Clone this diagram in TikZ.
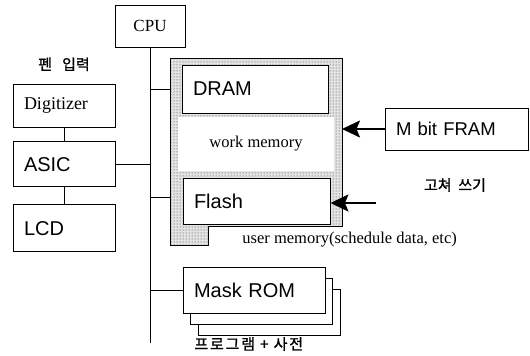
\documentclass[tikz,border=0pt]{standalone}
\usepackage{fontspec}
\setmainfont{Liberation Serif}
\newfontfamily\arialfont{Liberation Sans}
\newfontfamily\hangul[FakeBold=1.2]{Noto Sans CJK KR}
\usetikzlibrary{positioning, patterns, arrows.meta}

\tikzset{
  unit/.style={draw, line width=0.9pt, fill=white, inner xsep=11pt, inner ysep=0pt, align=left, font=\arialfont\fontsize{20}{22}\selectfont},
  memshade/.style={draw, line width=0.9pt, fill=gray!22, postaction={pattern=dots, pattern color=black!80}},
  push/.style={line width=2pt, -{Stealth[length=18pt, width=17pt, inset=3.5pt]}},
  note/.style={inner sep=1pt, font=\rmfamily\fontsize{16.5}{18}\selectfont},
  hannote/.style={inner sep=1pt, font=\hangul\fontsize{15}{17}\selectfont},
}

\begin{document}
\begin{tikzpicture}[x=1pt, y=-1pt, line width=0.9pt]
  \useasboundingbox (0,0) rectangle (530,356);

  % processor and its bus
  \node[unit, align=center, inner xsep=0pt, minimum width=70pt, minimum height=42pt, font=\rmfamily\fontsize{17}{19}\selectfont] (cpu) at (150,26) {CPU};
  \coordinate (busend) at (150,343);

  % pen input side
  \node[unit, text width=80pt, minimum height=43pt, font=\rmfamily\fontsize{18}{20}\selectfont] (digitizer) at (64,105.5) {Digitizer};
  \node[unit, text width=80pt, minimum height=45pt, below=14pt of digitizer] (asic) {ASIC};
  \node[unit, text width=80pt, minimum height=47pt, below=17pt of asic] (lcd) {LCD};
  \node[hannote, above=11pt of digitizer] (peninput) {펜~~~입력};

  % memory block
  \coordinate (memnw) at (170,58);
  \coordinate (memne) at (342,58);
  \draw[memshade] (memnw) -- (memne) -- (342,226) -- (208,226) -- (208,245) -- (170,245) -- cycle;
  \fill[white] (178,117) rectangle (334,171);
  \node[note] (workmem) at (256,144) {work memory};
  \node[unit, text width=124pt, minimum height=48pt] (dram) at (255,89) {DRAM};
  \node[unit, text width=125pt, minimum height=46pt] (flash) at (256.5,201) {Flash};
  \node[note, anchor=west] (usermem) at (241,240) {user memory(schedule data, etc)};

  % mask rom stack
  \node[unit, minimum width=142pt, minimum height=46pt] (rom3) at (269,312) {};
  \node[unit, minimum width=142pt, minimum height=46pt] (rom2) at (261,301) {};
  \node[unit, text width=120pt, minimum height=46pt] (rom) at (254,290) {Mask ROM};
  \node[hannote, anchor=west, font=\hangul\fontsize{15}{17}\selectfont\addfontfeature{LetterSpace=12}] (romnote) at (193,344) {프로그램~+~사전};

  % fram
  \node[unit, text width=121pt, minimum height=42pt, font=\arialfont\fontsize{18.5}{21}\selectfont] (fram) at (456.5,129) {M bit FRAM};
  \node[hannote] (rewrite) at (455,185) {고쳐~~쓰기};
  \coordinate (rewritein) at (376,203);

  % wiring
  \draw (cpu.south) -- (busend);
  \draw (digitizer) -- (asic);
  \draw (asic) -- (lcd);
  \draw (asic.east) -- (asic.east -| cpu.south);
  \draw (dram -| cpu.south) -- (dram -| memnw);
  \draw ([yshift=4pt]flash.west -| cpu.south) -- ([yshift=4pt]flash.west -| memnw);
  \draw (rom -| cpu.south) -- (rom.west);
  \draw[push] (fram.west) -- (fram.west -| memne);
  \draw[push] (rewritein) -- (rewritein -| flash.east);
\end{tikzpicture}
\end{document}
